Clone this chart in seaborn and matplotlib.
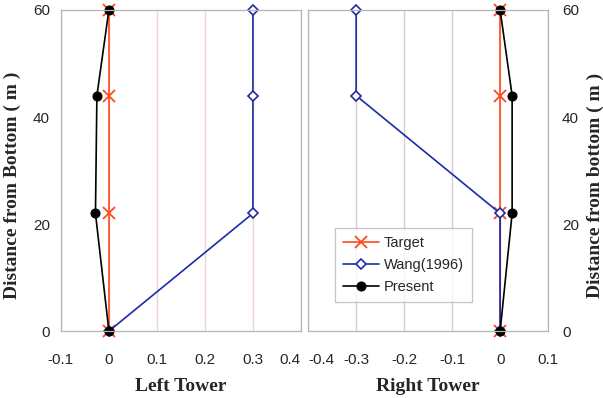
import numpy as np
import pandas as pd
import matplotlib
matplotlib.use("Agg")
import matplotlib.pyplot as plt
import seaborn as sns

# heights along the tower (m)
height = [0, 22, 44, 60]

# left tower
left_target = [0, 0, 0, 0]
left_wang = [0, 0.3, 0.3, 0.3]
left_present = [0, -0.028, -0.025, 0]

# right tower
right_target = [0, 0, 0, 0]
right_wang = [0, 0, -0.3, -0.3]
right_present = [0, 0.025, 0.025, 0]

left_ticks = [-0.1, 0, 0.1, 0.2, 0.3, 0.4]
left_ticklabels = ['-0.1', '0', '0.1', '0.2', '0.3', '0.4']
right_ticks = [-0.4, -0.3, -0.2, -0.1, 0, 0.1]
right_ticklabels = ['-0.4', '-0.3', '-0.2', '-0.1', '0', '0.1']

sns.set_style("white")
plt.rcParams['font.family'] = ['Liberation Sans', 'DejaVu Sans']

fig = plt.figure(figsize=(6.03, 3.98), dpi=100)
ax1 = fig.add_axes([0.101, 0.168, 0.398, 0.807])
ax2 = fig.add_axes([0.511, 0.168, 0.398, 0.807])

c_target = '#ff4a1c'
c_wang = '#1c2ca8'
c_present = 'black'
serif = dict(family='Liberation Serif', fontweight='bold', fontsize=14)


def draw(ax, target, wang, present, gridcol):
    sns.lineplot(x=target, y=height, ax=ax, sort=False, estimator=None,
                 color=c_target, lw=1.2, marker='x', markersize=9,
                 markeredgecolor=c_target, markeredgewidth=1.3, label='Target')
    sns.lineplot(x=wang, y=height, ax=ax, sort=False, estimator=None,
                 color=c_wang, lw=1.2, marker='D', markersize=5,
                 markerfacecolor='white', markeredgecolor=c_wang,
                 markeredgewidth=1.2, label='Wang(1996)')
    sns.lineplot(x=present, y=height, ax=ax, sort=False, estimator=None,
                 color=c_present, lw=1.2, marker='o', markersize=6.5,
                 markeredgecolor='black', label='Present')
    ax.set_ylim(0, 60)
    ax.set_yticks([0, 20, 40, 60])
    ax.grid(axis='x', color=gridcol, lw=1.0)
    ax.grid(axis='y', visible=False)
    for s in ax.spines.values():
        s.set_color('#b8b4b4')
        s.set_linewidth(0.9)
    ax.tick_params(length=0, labelsize=11)
    ax.tick_params(axis='x', pad=16)
    ax.tick_params(axis='y', pad=8)
    for line in ax.lines:
        line.set_clip_on(False)


draw(ax1, left_target, left_wang, left_present, '#efd6d6')
ax1.set_xlim(-0.1, 0.4)
ax1.set_xticks(left_ticks)
ax1.set_xticklabels(left_ticklabels)
ax1.get_xticklabels()[-1].set_horizontalalignment('right')
ax1.legend_.remove()
ax1.set_xlabel('Left Tower', **serif)
ax1.xaxis.set_label_coords(0.5, -0.145)
ax1.set_ylabel('Distance from Bottom ( m )', **serif)
ax1.yaxis.set_label_coords(-0.165, 0.455)

draw(ax2, right_target, right_wang, right_present, '#d4d0d0')
ax2.set_xlim(-0.4, 0.1)
ax2.set_xticks(right_ticks)
ax2.set_xticklabels(right_ticklabels)
ax2.get_xticklabels()[0].set_horizontalalignment('left')
ax2.yaxis.tick_right()
ax2.yaxis.set_label_position('right')
ax2.tick_params(axis='y', pad=10)
ax2.set_xlabel('Right Tower', **serif)
ax2.xaxis.set_label_coords(0.5, -0.145)
ax2.set_ylabel('Distance from bottom ( m )', **serif)
ax2.yaxis.set_label_coords(1.162, 0.455)
leg = ax2.legend(loc='lower left', bbox_to_anchor=(0.112, 0.09), fontsize=10.5,
                 fancybox=False, frameon=True, edgecolor='#b8b4b4',
                 borderpad=0.55, labelspacing=0.55, handlelength=2.5,
                 handletextpad=0.3, borderaxespad=0)
leg.get_frame().set_linewidth(0.9)

fig.savefig('out.png', dpi=100)
